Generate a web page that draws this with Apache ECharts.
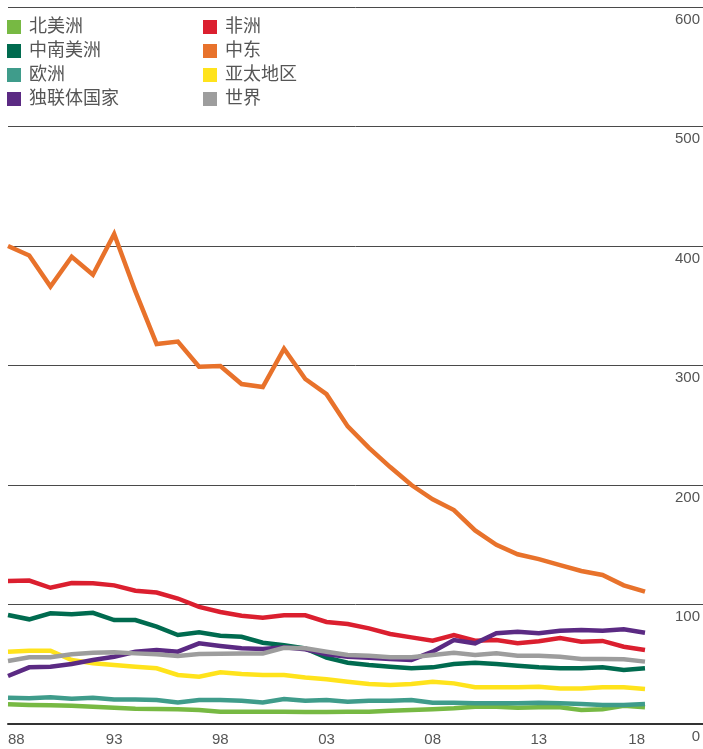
<!DOCTYPE html>
<html>
<head>
<meta charset="utf-8">
<script src="https://cdn.jsdelivr.net/npm/echarts@6/dist/echarts.min.js"></script>
<style>
  html, body { margin: 0; padding: 0; background: #fff; }
  #chart { width: 703px; height: 749px; }
</style>
</head>
<body>
<div id="chart"></div>
<script>
// years 1988 - 2018
const years = [];
for (let y = 1988; y <= 2018; y++) years.push(y);

const tickYears = [1988, 1993, 1998, 2003, 2008, 2013];
const lastTickYear = [2018];

const northAmerica = [16.5, 15.9, 15.6, 15.3, 14.5, 13.7, 12.8, 12.5, 12.3, 11.7, 10.3, 10.3, 10.3, 10.3, 10, 10, 10.3,
  10.3, 11.1, 11.7, 12.3, 13.1, 14.5, 14.5, 13.7, 14, 14, 11.7, 12.3, 15.3, 14];
const southCentralAmerica = [91.2, 87.6, 92.6, 91.8, 93, 87, 87, 81.4, 74.5, 76.7, 73.9, 73, 68, 66, 63.3, 55.5, 51.3,
  49.4, 48, 46.6, 47.4, 50.2, 51.3, 50.2, 48.8, 47.4, 46.6, 46.6, 47.4, 45.2, 46.6];
const europe = [22, 21.5, 22.3, 21.2, 22, 20.6, 20.6, 20, 18.1, 20, 20, 19.5, 18.1, 20.9, 19.5, 20, 18.7,
  19.5, 19.5, 20, 17.8, 17.8, 17.3, 17.3, 17.3, 17.8, 17.3, 16.7, 15.9, 15.9, 16.7];
const cis = [40.2, 47.4, 48, 50.2, 53.6, 56.3, 60.5, 62, 60.5, 67.5, 65.3, 63.3, 62.8, 64.2, 62.5, 58.3, 56.3,
  55.5, 54.4, 53.6, 60.5, 70.3, 67.5, 75.9, 77.2, 75.9, 78, 78.7, 78, 79.2, 76.4];
const africa = [119.7, 120, 114, 118, 117.7, 116, 111.5, 110, 105, 98, 93.7, 90.6, 89, 91, 91, 85.4, 83.7,
  80, 75.3, 72.5, 69.7, 74.5, 69.7, 70.3, 67.5, 69.2, 72, 68.9, 69.5, 64.7, 62];
const middleEast = [400, 392, 366, 391, 376, 410, 362, 318, 320, 299, 299.5, 284.5, 282, 314, 288.7, 276, 249,
  231, 215, 200, 188, 179, 162, 150, 142, 138, 133, 128, 124.7, 116, 110.7];
const asiaPacific = [60.5, 61.3, 61.3, 53.6, 50.8, 49.4, 48, 46.6, 41, 39.6, 43.3, 41.8, 41, 41, 39, 37.4, 35.4,
  33.5, 32.6, 33.5, 35.4, 34, 30.7, 30.7, 30.7, 31.2, 29.8, 29.8, 30.7, 30.7, 29.3];
const world = [52.7, 55.8, 55.8, 58.3, 59.7, 60, 59.1, 58.3, 56.9, 58.6, 58.8, 59.1, 59.1, 63.8, 63.3, 60.5, 57.7,
  57.2, 55.8, 55.8, 57.7, 59.7, 57.7, 59.1, 57.2, 57.2, 56.3, 54.4, 54.4, 54.1, 52.2];

const names = ['北美洲', '中南美洲', '欧洲', '独联体国家', '非洲', '中东', '亚太地区', '世界'];
const colors = {
  '北美洲': '#77b943',
  '中南美洲': '#006b4f',
  '欧洲': '#3f9c8b',
  '独联体国家': '#5b2a83',
  '非洲': '#db1f2f',
  '中东': '#e8722b',
  '亚太地区': '#ffe31c',
  '世界': '#9d9d9d'
};
const values = {
  '北美洲': northAmerica,
  '中南美洲': southCentralAmerica,
  '欧洲': europe,
  '独联体国家': cis,
  '非洲': africa,
  '中东': middleEast,
  '亚太地区': asiaPacific,
  '世界': world
};
// drawing order (last on top)
const drawOrder = ['北美洲', '欧洲', '亚太地区', '中南美洲', '非洲', '独联体国家', '世界', '中东'];

const font = 'Liberation Sans, Noto Sans CJK SC, sans-serif';

const legendBase = {
  orient: 'vertical',
  top: 18,
  padding: 0,
  itemWidth: 14,
  itemHeight: 14,
  itemGap: 6,
  icon: 'rect',
  selectedMode: false,
  textStyle: { color: '#555', fontSize: 18, lineHeight: 18, fontFamily: font, padding: [0, 0, 0, 3] }
};

const xMax = 1988 + 695 / (637 / 30);
const xLabelStyle = { color: '#555', fontSize: 15, fontFamily: font, margin: 8 };

const chart = echarts.init(document.getElementById('chart'));
chart.setOption({
  animation: false,
  legend: [
    Object.assign({}, legendBase, { left: 7, data: names.slice(0, 4) }),
    Object.assign({}, legendBase, { left: 203, data: names.slice(4) })
  ],
  grid: { left: 8, right: 0, top: 7, bottom: 25, containLabel: false },
  xAxis: [{
    type: 'value',
    min: 1988,
    max: xMax,
    axisLine: { show: true, lineStyle: { color: '#333', width: 2 } },
    axisTick: { show: false },
    splitLine: { show: false },
    axisLabel: Object.assign({
      customValues: tickYears,
      formatter: v => String(v).slice(2),
      alignMinLabel: 'left'
    }, xLabelStyle)
  }, {
    // last year label, right-aligned at its tick
    type: 'value',
    position: 'bottom',
    min: 1988,
    max: xMax,
    axisLine: { show: false },
    axisTick: { show: false },
    splitLine: { show: false },
    axisLabel: Object.assign({
      customValues: lastTickYear,
      formatter: v => String(v).slice(2),
      align: 'right'
    }, xLabelStyle)
  }],
  yAxis: {
    type: 'value',
    position: 'right',
    min: 0,
    max: 600,
    interval: 100,
    axisLine: { show: false },
    axisTick: { show: false },
    splitLine: { show: true, lineStyle: { color: '#4a4a4a', width: 1 } },
    axisLabel: {
      inside: true,
      align: 'right',
      verticalAlign: 'top',
      margin: 3,
      padding: [5, 0, 0, 0],
      color: '#555',
      fontSize: 15,
      fontFamily: font
    }
  },
  series: drawOrder.map(n => ({
    name: n,
    type: 'line',
    showSymbol: false,
    symbol: 'none',
    lineStyle: { width: 4.5, color: colors[n], join: 'miter' },
    itemStyle: { color: colors[n] },
    data: years.map((y, i) => [y, values[n][i]])
  }))
});
</script>
</body>
</html>
